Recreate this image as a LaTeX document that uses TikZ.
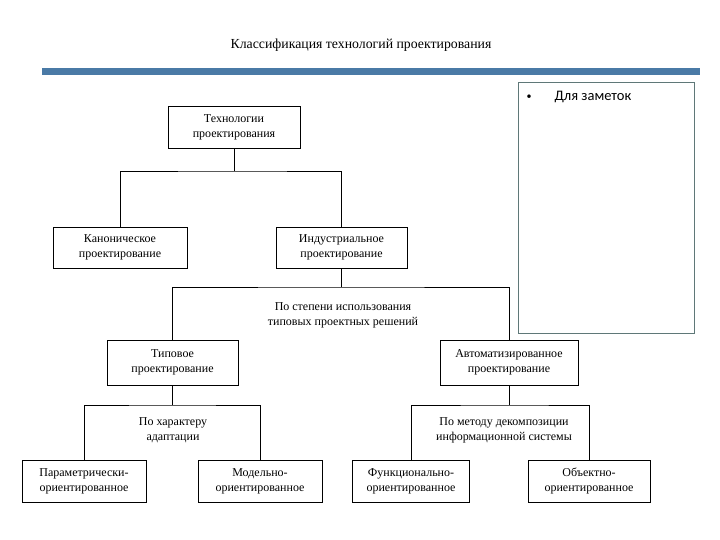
\documentclass[tikz,border=0pt]{standalone}
\usepackage{fontspec}
\setmainfont{Liberation Serif}
\newfontfamily\notefont{Carlito}
\begin{document}
\begin{tikzpicture}[x=1pt,y=-1pt,
  box/.style={draw=black,line width=0.9pt,align=center,inner sep=0pt,
    font=\fontsize{12}{15}\selectfont},
  lbl/.style={align=center,inner sep=0pt,font=\fontsize{12}{15}\selectfont},
  conn/.style={draw=black,line width=0.9pt}]
\useasboundingbox (0,0) rectangle (720,540);
\node[font=\fontsize{13.8}{16}\selectfont] (title) at (361,45) {Классификация технологий проектирования};
\fill[fill={rgb,255:red,74;green,122;blue,166}] (42,68) rectangle (700,75);
\node[draw={rgb,255:red,95;green,120;blue,120},line width=0.7pt,minimum width=176pt,minimum height=251pt,inner sep=0pt] (notes) at (606,207.5) {};
\node[font=\notefont\fontsize{10}{12}\selectfont] (bul) at (529,97) {•};
\node[anchor=west,font=\notefont\fontsize{14.5}{17}\selectfont] (ntext) at (551,97) {Для заметок};
\node[box,minimum width=132pt,minimum height=42pt] (top) at (234,127) {Технологии\\проектирования};
\node[box,minimum width=134pt,minimum height=41pt] (kan) at (120,247.5) {Каноническое\\проектирование};
\node[box,minimum width=131pt,minimum height=41pt] (ind) at (341.5,247.5) {Индустриальное\\проектирование};
\node[box,minimum width=131pt,minimum height=45pt] (tip) at (172.5,362.5) {Типовое\\проектирование};
\node[box,minimum width=138pt,minimum height=45pt] (avt) at (509,362.5) {Автоматизированное\\проектирование};
\node[box,minimum width=124pt,minimum height=42pt] (par) at (84,481) {Параметрически-\\ориентированное};
\node[box,minimum width=124pt,minimum height=42pt] (mod) at (260,481) {Модельно-\\ориентированное};
\node[box,minimum width=117pt,minimum height=42pt] (fun) at (411,481) {Функционально-\\ориентированное};
\node[box,minimum width=122pt,minimum height=42pt] (obj) at (589,481) {Объектно-\\ориентированное};
\node[lbl] (l1) at (343,315) {По степени использования\\типовых проектных решений};
\node[lbl] (l2) at (173,430) {По характеру\\адаптации};
\node[lbl] (l3) at (504,430) {По методу декомпозиции\\информационной системы};
\coordinate (j1) at (234,171);
\coordinate (j2) at (341.5,287);
\coordinate (j3) at (172.5,405);
\coordinate (j4) at (509,405);
\draw[conn] (top.south) -- (j1);
\draw[conn] (kan.north) |- (j1) -| (ind.north);
\draw[conn] (ind.south) -- (j2);
\draw[conn] (tip.north) |- (j2) -| (avt.north);
\draw[conn] (tip.south) -- (j3);
\draw[conn] (par.north) |- (j3) -| (mod.north);
\draw[conn] (avt.south) -- (j4);
\draw[conn] (fun.north) |- (j4) -| (obj.north);
\end{tikzpicture}
\end{document}
